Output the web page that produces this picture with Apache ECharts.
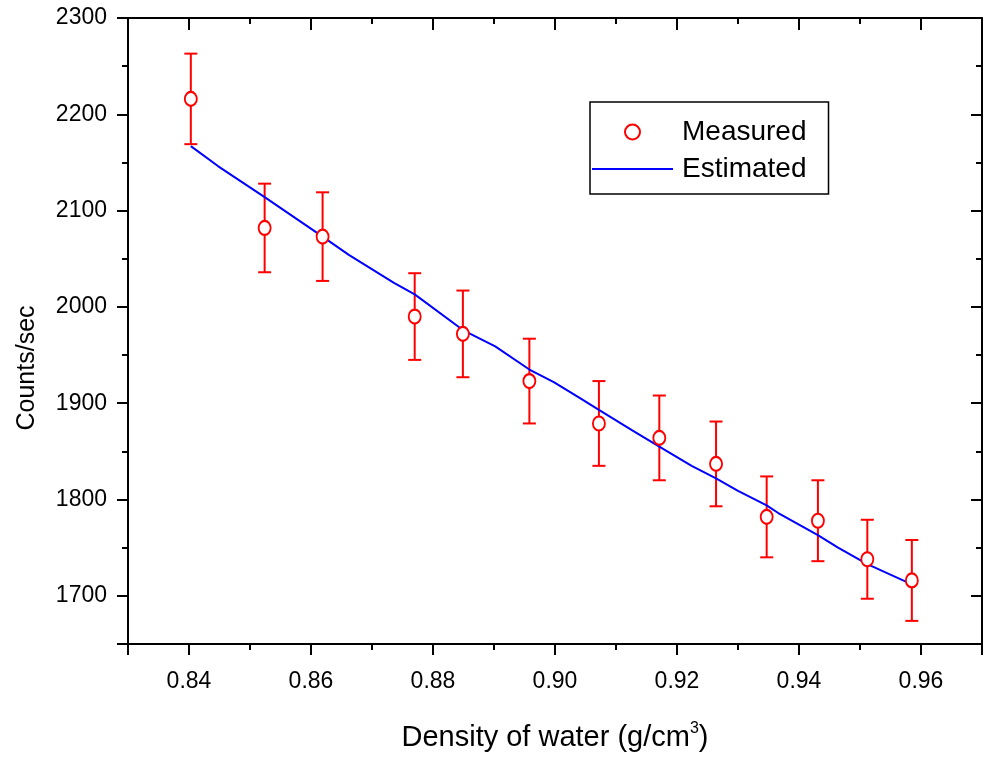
<!DOCTYPE html>
<html><head><meta charset="utf-8">
<script src="https://cdn.jsdelivr.net/npm/echarts@6/dist/echarts.min.js"></script>
<style>html,body{margin:0;padding:0;background:#fff}#c{width:984px;height:762px}</style>
</head><body><div id="c"></div>
<script>
// Measured data (density g/cm3, counts/sec, error)
const measuredX = [0.8403, 0.8524, 0.8619, 0.8770, 0.8849, 0.8958, 0.9072, 0.9171, 0.9264, 0.9347, 0.9431, 0.9512, 0.9585];
const measuredY = [2216, 2082, 2073, 1990, 1972, 1923, 1879, 1864, 1837, 1782, 1778, 1738, 1716];
const measuredErr = [47, 46, 46, 45, 45, 44, 44, 44, 44, 42, 42, 41, 42];
// Estimated curve
const estimatedX = [0.8403, 0.8448, 0.8524, 0.8619, 0.8662, 0.8736, 0.8770, 0.8849, 0.8902, 0.8958, 0.8998, 0.9039, 0.9072, 0.9126, 0.9171, 0.9224, 0.9264, 0.9300, 0.9347, 0.9366, 0.9431, 0.9464, 0.9512, 0.9585];
const estimatedY = [2167, 2146, 2114, 2073, 2054, 2025, 2013, 1976, 1959, 1935, 1922, 1906, 1893, 1872, 1855, 1835, 1822, 1809, 1794, 1786, 1763, 1750, 1733, 1712];
const seriesNames = ['Measured', 'Estimated'];
const xTitle = 'Density of water (g/cm{sup|3})';
const yTitle = 'Counts/sec';

const FONT = '"Liberation Sans", Arial, sans-serif';
const chart = echarts.init(document.getElementById('c'));
const tickStyle = { color: '#000', width: 2 };
function xAx(pos, main) {
  return {
    type: 'value', min: 0.83, max: 0.97, splitNumber: 7, position: pos,
    axisLine: { show: true, onZero: false, lineStyle: { color: '#000', width: 2 } },
    axisTick: { show: true, inside: !main, length: main ? 11 : 12, lineStyle: tickStyle },
    minorTick: { show: true, splitNumber: 2, length: 6, lineStyle: tickStyle },
    splitLine: { show: false },
    axisLabel: { show: main, showMinLabel: false, showMaxLabel: false, fontSize: 23, color: '#000', fontFamily: FONT, margin: 26,
      formatter: v => v.toFixed(2) },
    name: main ? xTitle : '', nameLocation: 'middle', nameGap: 77,
    nameTextStyle: { fontSize: 29, color: '#000', fontFamily: FONT, lineHeight: 34,
      rich: { sup: { fontSize: 16, color: '#000', fontFamily: FONT, verticalAlign: 'top', lineHeight: 18 } } }
  };
}
function yAx(pos, main) {
  return {
    type: 'value', min: 1650, max: 2300, splitNumber: 6, position: pos,
    axisLine: { show: true, onZero: false, lineStyle: { color: '#000', width: 2 } },
    axisTick: { show: true, inside: !main, length: 11, lineStyle: tickStyle },
    minorTick: { show: true, splitNumber: 2, length: 6, lineStyle: tickStyle },
    splitLine: { show: false },
    axisLabel: { show: main, showMinLabel: false, fontSize: 23, color: '#000', fontFamily: FONT, margin: 21,
      formatter: v => String(v) },
    name: main ? yTitle : '', nameLocation: 'middle', nameGap: 88, nameRotate: 90,
    nameTextStyle: { fontSize: 25, color: '#000', fontFamily: FONT, padding: [0, 74, 0, 0] }
  };
}
const option = {
  animation: false,
  backgroundColor: '#fff',
  grid: { left: 128, right: 2, top: 18, bottom: 118 },
  xAxis: [xAx('bottom', true), xAx('top', false)],
  yAxis: [yAx('left', true), yAx('right', false)],
  legend: {
    left: 590, top: 102, orient: 'vertical',
    itemWidth: 81, itemHeight: 15, itemGap: 9,
    padding: [16, 22, 11, 2],
    borderColor: '#000', borderWidth: 1.5,
    textStyle: { fontSize: 28, color: '#000', fontFamily: FONT, padding: [0, 0, 0, 4] },
    data: [
      { name: seriesNames[0] },
      { name: seriesNames[1], icon: 'path://M0,0 L81,0 L81,2 L0,2 Z', itemStyle: { color: '#0000ff' } }
    ]
  },
  series: [
    {
      type: 'custom', name: 'err', xAxisIndex: 0, yAxisIndex: 0, silent: true, z: 2,
      data: measuredX.map((x, i) => [x, measuredY[i] - measuredErr[i], measuredY[i] + measuredErr[i]]),
      encode: { x: 0, y: [1, 2] },
      renderItem: (params, api) => {
        const lo = api.coord([api.value(0), api.value(1)]);
        const hi = api.coord([api.value(0), api.value(2)]);
        const w = 6.5;
        const st = { stroke: '#ff0000', lineWidth: 2 };
        return { type: 'group', children: [
          { type: 'line', shape: { x1: lo[0], y1: lo[1], x2: hi[0], y2: hi[1] }, style: st },
          { type: 'line', shape: { x1: lo[0] - w, y1: lo[1], x2: lo[0] + w, y2: lo[1] }, style: st },
          { type: 'line', shape: { x1: hi[0] - w, y1: hi[1], x2: hi[0] + w, y2: hi[1] }, style: st }
        ] };
      }
    },
    {
      type: 'line', name: seriesNames[1], xAxisIndex: 0, yAxisIndex: 0, z: 3,
      data: estimatedX.map((x, i) => [x, estimatedY[i]]),
      symbol: 'none', showSymbol: false, color: '#0000ff',
      lineStyle: { color: '#0000ff', width: 2 }
    },
    {
      type: 'scatter', name: seriesNames[0], xAxisIndex: 0, yAxisIndex: 0, z: 4,
      data: measuredX.map((x, i) => [x, measuredY[i]]),
      symbol: 'circle', symbolSize: [12, 14],
      itemStyle: { color: '#ffffff', borderColor: '#ff0000', borderWidth: 2, opacity: 1 }
    }
  ]
};
chart.setOption(option);
</script>
</body></html>
